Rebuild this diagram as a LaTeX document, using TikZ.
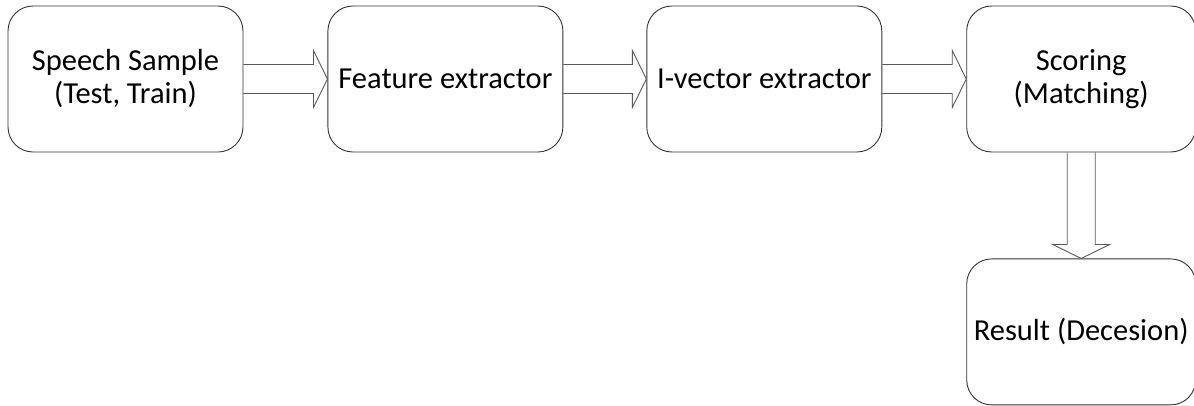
\documentclass[tikz,border=0pt]{standalone}
\usepackage{fontspec}
\setmainfont{Carlito}
\usetikzlibrary{positioning}
\begin{document}
\begin{tikzpicture}[x=1pt,y=1pt,
  stage/.style={draw=black!80, line width=0.9pt, rounded corners=25pt,
    minimum width=235pt, minimum height=146pt, inner sep=0pt,
    align=center, font=\fontsize{30.5}{33}\selectfont},
  fatarrow/.style={draw=black!65, line width=0.9pt}]
   % hollow block arrows between the stages
   \newcommand{\fatRight}[2]{
        \draw[fatarrow] ([yshift=14.5pt]#1.east) -- ([xshift=-14pt,yshift=14.5pt]#2.west)
          -- ([xshift=-14pt,yshift=28.5pt]#2.west) -- (#2.west)
          -- ([xshift=-14pt,yshift=-28.5pt]#2.west) -- ([xshift=-14pt,yshift=-14.5pt]#2.west)
          -- ([yshift=-14.5pt]#1.east);
    }
    \newcommand{\fatDown}[2]{
        \draw[fatarrow] ([xshift=-14pt]#1.south) -- ([xshift=-14pt,yshift=14pt]#2.north)
          -- ([xshift=-28.5pt,yshift=14pt]#2.north) -- (#2.north)
          -- ([xshift=28.5pt,yshift=14pt]#2.north) -- ([xshift=14pt,yshift=14pt]#2.north)
          -- ([xshift=14pt]#1.south);
    }
  \useasboundingbox (0,0) rectangle (1194,-405);

  \node[stage] (speech) at (125.5,-79) {Speech Sample\\(Test, Train)};
  \node[stage, right=84pt of speech] (feature) {Feature extractor};
  \node[stage, right=83pt of feature] (ivector) {I-vector extractor};
  \node[stage, minimum width=229pt, right=84pt of ivector] (scoring) {Scoring\\(Matching)};
  \node[stage, minimum width=229pt, below=106pt of scoring] (result) {Result (Decesion)};

  \fatRight{speech}{feature}
  \fatRight{feature}{ivector}
  \fatRight{ivector}{scoring}
  \fatDown{scoring}{result}

\end{tikzpicture}
\end{document}
